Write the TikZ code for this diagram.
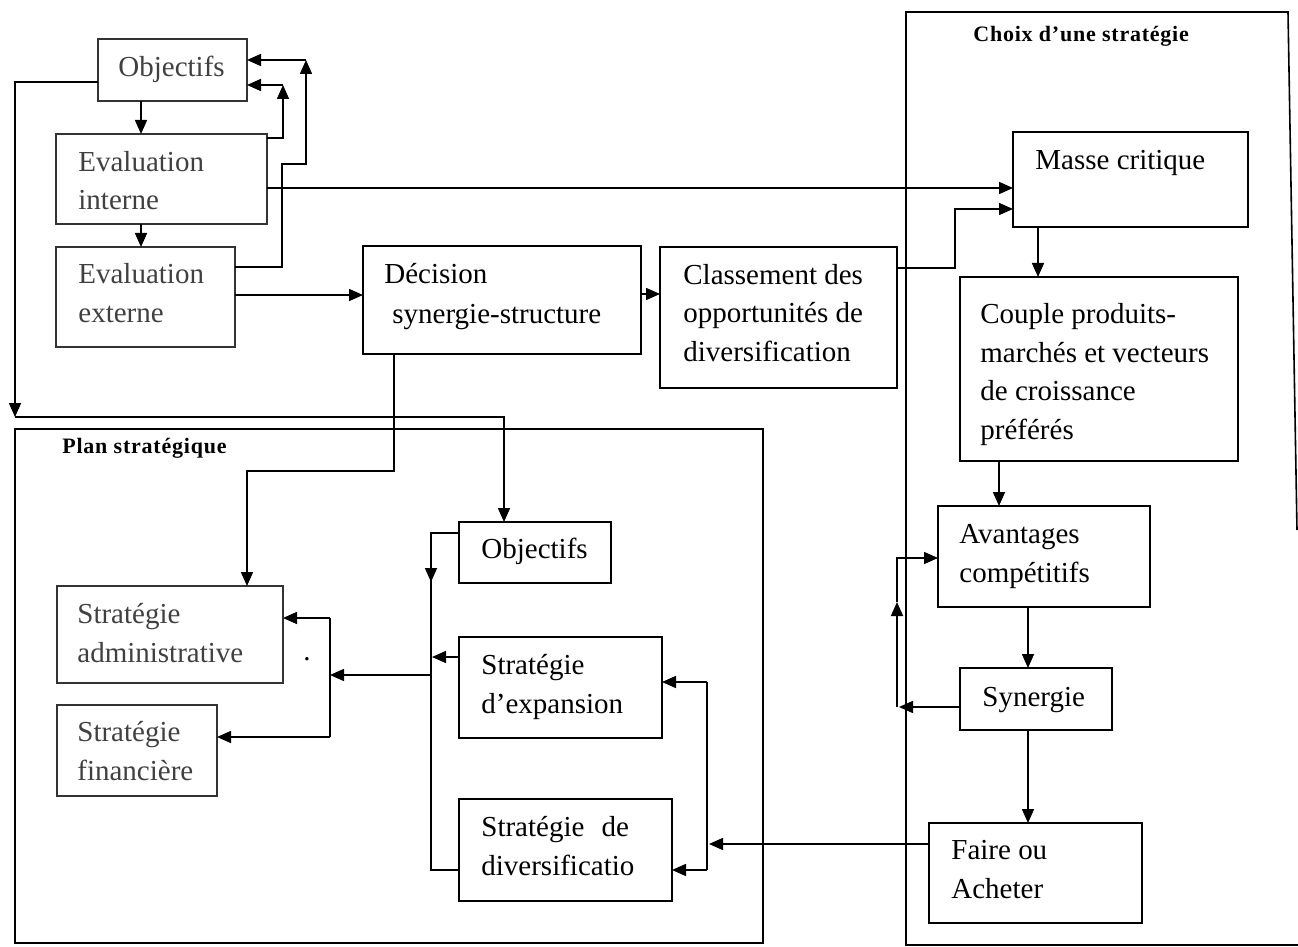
\documentclass[tikz,border=0pt]{standalone}
\usepackage{fontspec}
\setmainfont{Liberation Serif}
\newfontfamily\lblfont[LetterSpace=3.5]{Liberation Serif}
\usetikzlibrary{arrows.meta}
\newcommand{\bodyfont}{\fontsize{14.5}{19.25}\selectfont}
\newcommand{\bx}[6][]{\node[boxst,#1,minimum width={(#5-#3)*0.5pt},minimum height={(#6-#4)*0.5pt}] (#2) at (#3,#4) {};}
\tikzset{
  boxst/.style={draw, line width=0.8pt, inner sep=0pt, outer sep=0pt, anchor=north west},
  lite/.style={draw=black!80},
  txt/.style={font=\bodyfont, align=left, inner sep=0pt, anchor=base west},
  ltxt/.style={txt, text=black!75},
  lbl/.style={font=\lblfont\bfseries\fontsize{11}{13}\selectfont, inner sep=0pt, anchor=base west},
  ln/.style={line width=0.8pt},
  arr/.style={ln, -{Triangle[length=7pt,width=6pt]}}
}
\begin{document}
\begin{tikzpicture}[x=0.5pt,y=-0.5pt]
\useasboundingbox (0,0) rectangle (1298,947);
% frames
\bx{plan}{15}{429}{763}{943}
\draw[ln] (1297,530) -- (1288,12) -- (906,12) -- (906,945) -- (1298,945);
\node[lbl] (lchoix) at (973,42) {Choix d’une stratégie};
\node[lbl] (lplan) at (62,453) {Plan stratégique};
% boxes
\bx[lite]{obj1}{98}{39}{247}{101}
\bx[lite]{evi}{56}{134}{267}{224}
\bx[lite]{eve}{56}{247}{235}{347}
\bx{dec}{363}{246}{641}{354}
\bx{cls}{660}{247}{897}{388}
\bx{masse}{1013}{132}{1248}{227}
\bx{couple}{960}{277}{1238}{461}
\bx{avant}{938}{506}{1150}{607}
\bx{syn}{960}{668}{1112}{730}
\bx{faire}{929}{823}{1142}{923}
\bx{obj2}{459}{522}{611}{583}
\bx{exp}{459}{637}{662}{738}
\bx{div}{459}{799}{672}{901}
\bx[lite]{adm}{57}{586}{283}{683}
\bx[lite]{fin}{57}{705}{217}{796}
% texts (anchor = baseline of the last line)
\node[ltxt] (tobj1) at (118,77) {Objectifs};
\node[ltxt] (tevi) at (78,210) {Evaluation\\interne};
\node[ltxt] (teve) at (78,322) {Evaluation\\externe};
\node[txt] (tdec1) at (384,284) {Décision};
\node[txt] (tdec2) at (392,323) {synergie-structure};
\node[txt] (tcls) at (683,361) {Classement des\\opportunités de\\diversification};
\node[txt] (tmasse) at (1035,170) {Masse critique};
\node[txt] (tcouple) at (980,439) {Couple produits-\\marchés et vecteurs\\de croissance\\préférés};
\node[txt] (tavant) at (959,582) {Avantages\\compétitifs};
\node[txt] (tsyn) at (982,706) {Synergie};
\node[txt] (tfaire) at (951,898) {Faire ou\\Acheter};
\node[txt] (tobj2) at (481,558) {Objectifs};
\node[txt] (texp) at (481,713) {Stratégie\\d’expansion};
\node[txt] (tdiv) at (481,875) {Stratégie\hspace{5pt} de\\diversificatio};
\node[ltxt] (tadm) at (77,662) {Stratégie\\administrative};
\node[ltxt] (tfin) at (77,780) {Stratégie\\financière};
\node[txt, anchor=base] (dot) at (307,660) {.};
% connectors top-left
\draw[arr] (obj1.west |- 0,82) -| (15,417);
\draw[arr] (15,417) -| (504,0 |- obj2.north);
\draw[arr] (obj1.south -| 141,0) -- (evi.north -| 141,0);
\draw[arr] (evi.south -| 141,0) -- (eve.north -| 141,0);
\draw[arr] (evi.east |- 0,138) -| (283,85);
\draw[arr] (283,85) -- (obj1.east |- 0,85);
\draw[arr] (eve.east |- 0,267) -| (282,164) -| (306,60);
\draw[arr] (306,60) -- (obj1.east |- 0,60);
\draw[arr] (evi.east |- 0,188) -- (masse.west |- 0,188);
\draw[arr] (eve.east |- 0,295) -- (dec.west |- 0,295);
\draw[arr] (dec.east |- 0,294) -- (cls.west |- 0,294);
\draw[arr] (cls.east |- 0,268) -| (955,209) -- (masse.west |- 0,209);
% right column
\draw[arr] (masse.south -| 1038,0) -- (couple.north -| 1038,0);
\draw[arr] (couple.south -| 999,0) -- (avant.north -| 999,0);
\draw[arr] (avant.south -| 1028,0) -- (syn.north -| 1028,0);
\draw[arr] (syn.south -| 1028,0) -- (faire.north -| 1028,0);
\draw[arr] (syn.west |- 0,707) -- (899,707);
\draw[arr] (897,707) -- (897,602);
\draw[arr] (897,602) |- (avant.west |- 0,558);
\draw[arr] (faire.west |- 0,844) -- (709,844);
% plan strategique
\draw[ln] (707,682) -- (707,870);
\draw[arr] (707,682) -- (exp.east |- 0,682);
\draw[arr] (707,870) -- (div.east |- 0,870);
\draw[ln] (obj2.west |- 0,533) -- (431,533) -- (431,870) -- (div.west |- 0,870);
\draw[arr] (431,533) -- (431,582);
\draw[arr] (exp.west |- 0,657) -- (432,657);
\draw[arr] (431,675) -- (330,675);
\draw[ln] (330,618) -- (330,737);
\draw[arr] (330,618) -- (adm.east |- 0,618);
\draw[arr] (330,737) -- (fin.east |- 0,737);
\draw[arr] (dec.south -| 394,0) |- (247,471) -- (247,0 |- adm.north);
\end{tikzpicture}
\end{document}
